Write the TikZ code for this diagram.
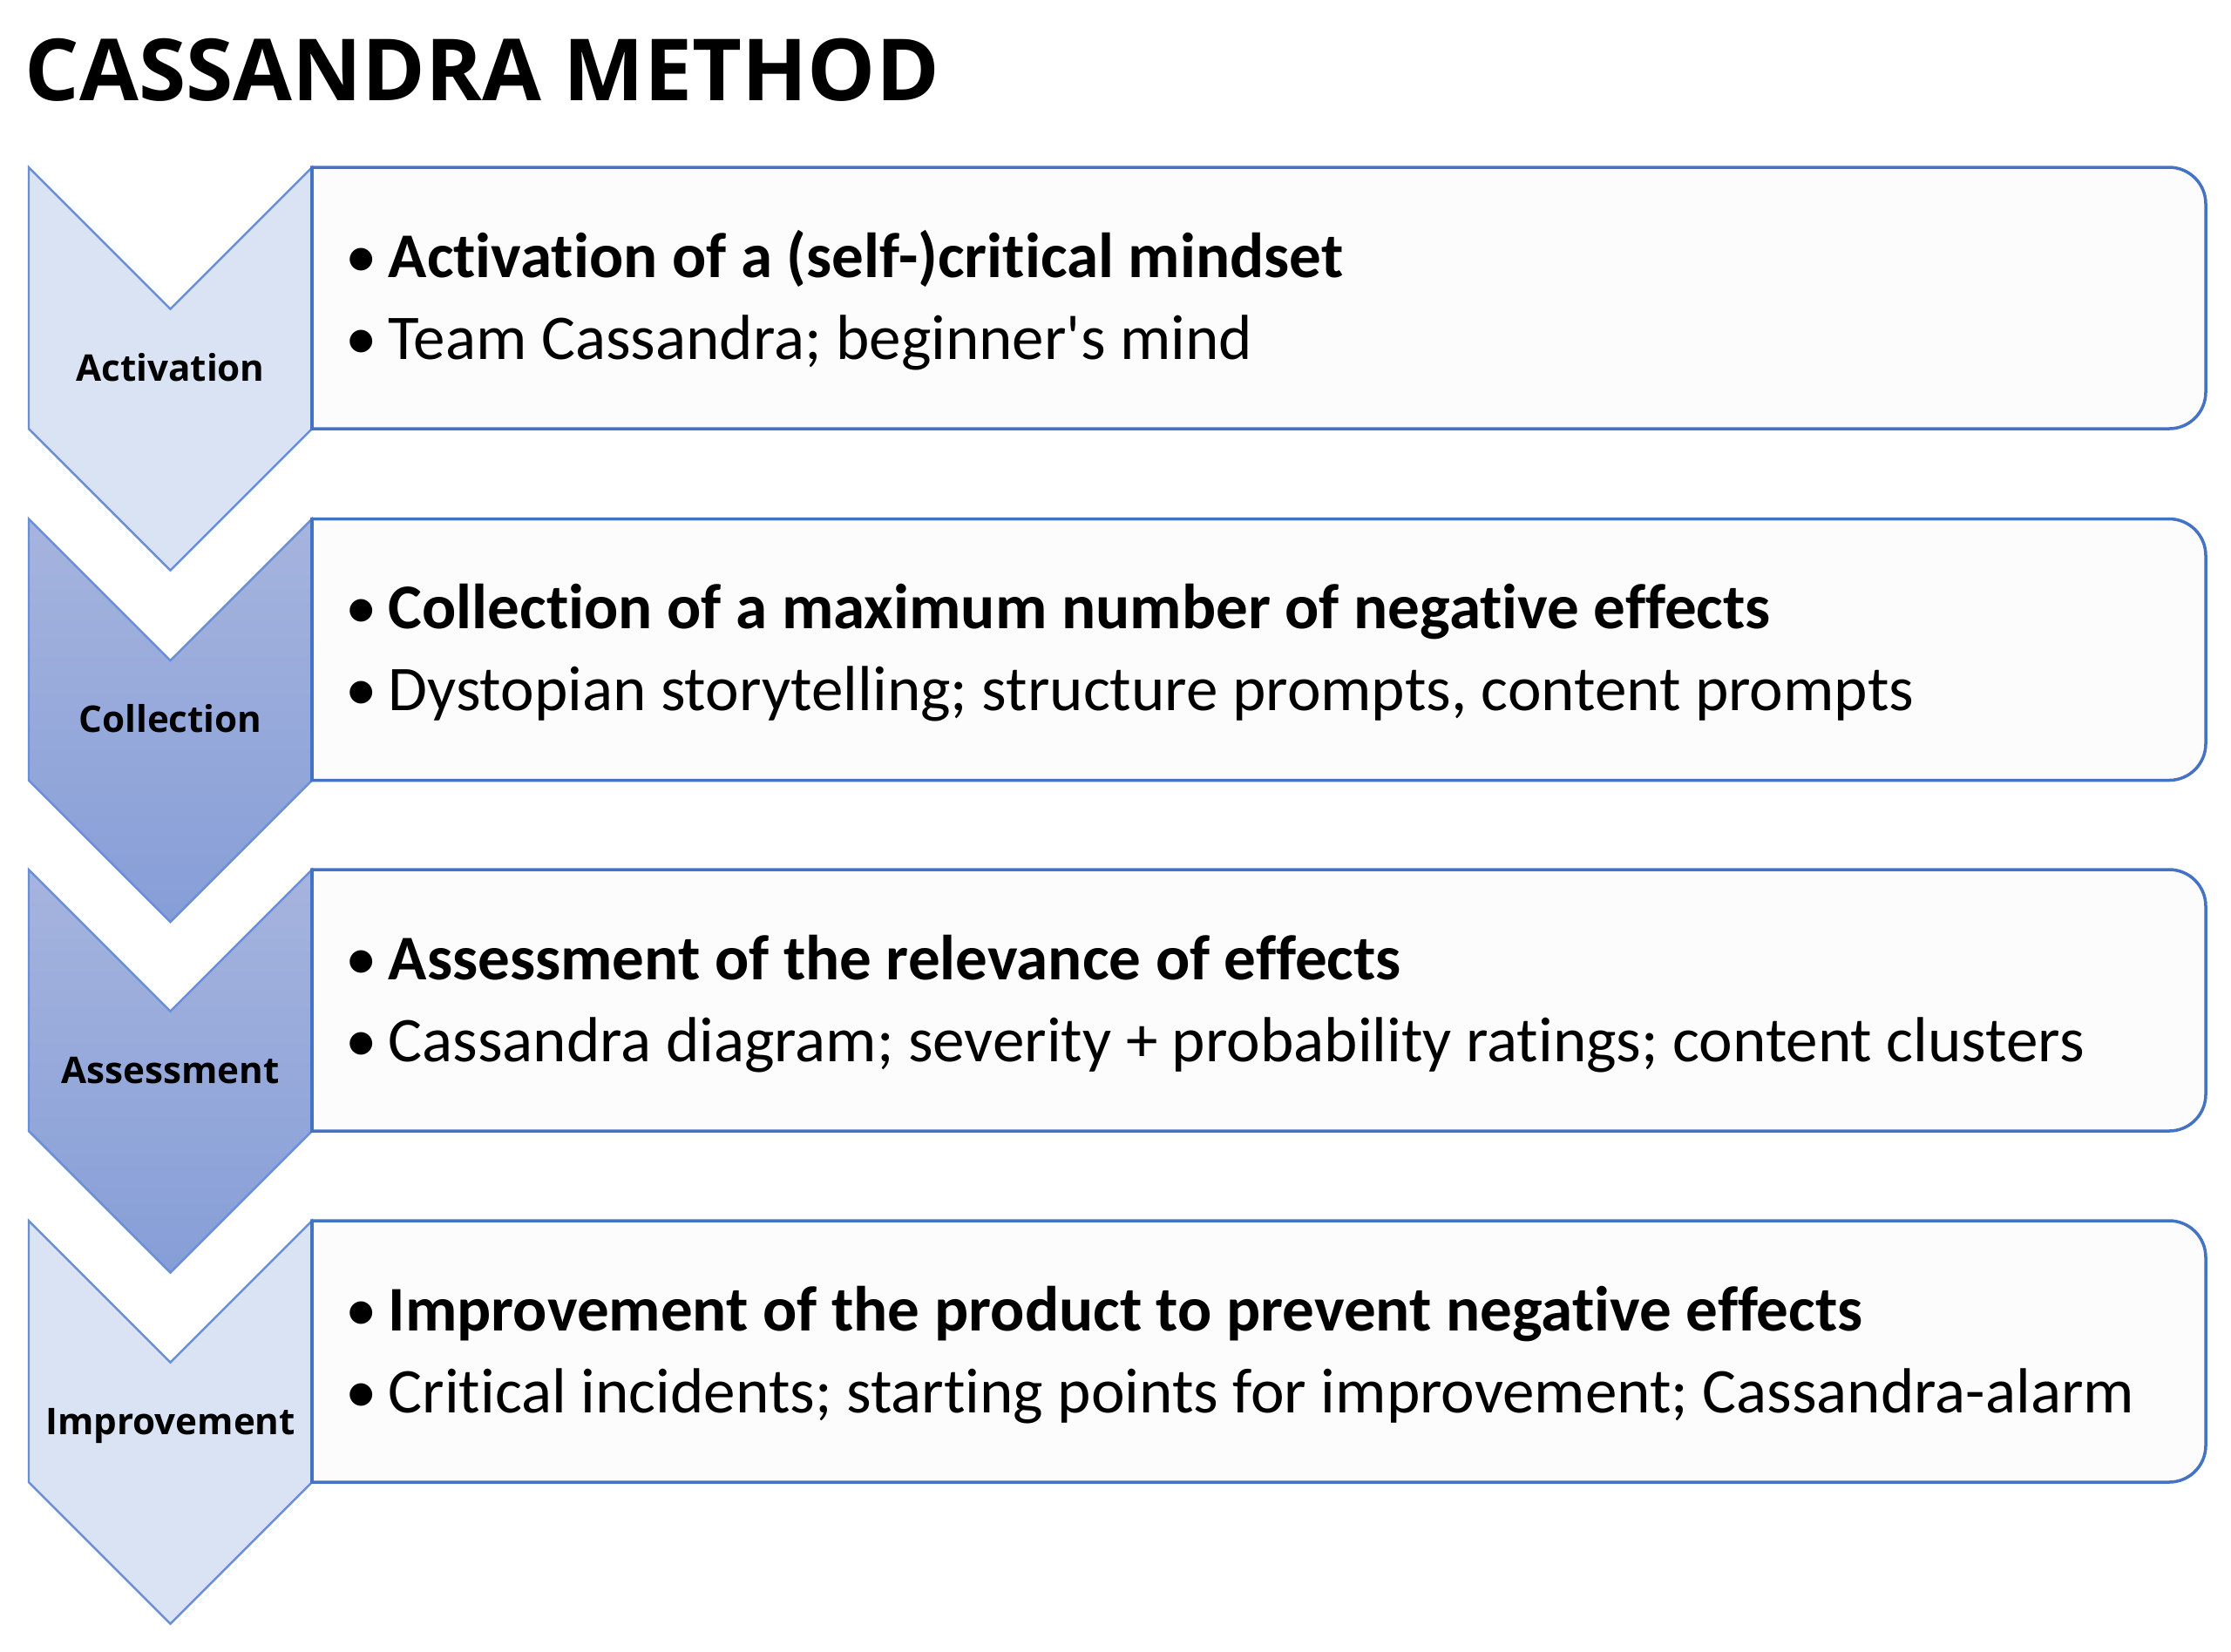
\documentclass[tikz,border=0pt]{standalone}
\usepackage{fontspec}
\setmainfont{Carlito}[Ligatures=CommonOff]
\newfontfamily\headfont{Open Sans}
\usepackage{xcolor}
\usetikzlibrary{positioning}
\definecolor{accblue}{HTML}{4472C4}
\definecolor{chevedge}{HTML}{6A8FD6}
\definecolor{palefill}{HTML}{DAE3F3}
\definecolor{darktop}{HTML}{A6B4DE}
\definecolor{darkbot}{HTML}{869ED7}
\definecolor{boxfill}{HTML}{FCFCFC}
\newcommand{\bul}{\makebox[0.49cm][l]{\mdseries\textbullet}}

\begin{document}
\begin{tikzpicture}[
    chev/.style={draw=chevedge, line width=0.7pt, line join=miter},
    palechev/.style={chev, fill=palefill},
    darkchev/.style={chev, top color=darktop, bottom color=darkbot},
    infobox/.style={draw=accblue, line width=1pt, fill=boxfill},
    stagename/.style={font=\headfont\bfseries\fontsize{12}{14}\selectfont, anchor=base, inner sep=0},
    headline/.style={font=\bfseries\fontsize{20.8}{25}\selectfont, anchor=base west, inner sep=0},
    subline/.style={font=\fontsize{20.8}{25}\selectfont, anchor=base west, inner sep=0}]
  \useasboundingbox (0,0) rectangle (25.6,-18.95);

  \node[font=\headfont\bfseries\fontsize{28}{32}\selectfont, anchor=base west, inner sep=0] (title) at (0.28,-1.15) {CASSANDRA METHOD};

  % activation
  \begin{scope}[yshift=-1.92cm]
  \draw[palechev] (0.33,0)--(1.955,-1.625)--(3.58,0)--(3.58,-3.0)--(1.955,-4.625)--(0.33,-3.0)--cycle;
  \draw[infobox] (3.58,0)--(12,0) [rounded corners=0.42cm]--(25.31,0)--(25.31,-3.0)--(12,-3.0) [sharp corners]--(3.58,-3.0)--cycle;
  \node[stagename] (act) at (1.955,-2.45) {Activation};
  \node[headline] (act1) at (3.96,-1.26) {\bul Activation of a (self-)critical mindset};
  \node[subline] (act2) at (3.96,-2.20) {\bul Team Cassandra; beginner\textquotesingle s mind};
  \end{scope}

  % collection
  \begin{scope}[yshift=-5.955cm]
  \draw[darkchev] (0.33,0)--(1.955,-1.625)--(3.58,0)--(3.58,-3.0)--(1.955,-4.625)--(0.33,-3.0)--cycle;
  \draw[infobox] (3.58,0)--(12,0) [rounded corners=0.42cm]--(25.31,0)--(25.31,-3.0)--(12,-3.0) [sharp corners]--(3.58,-3.0)--cycle;
  \node[stagename] (coll) at (1.955,-2.45) {Collection};
  \node[headline] (coll1) at (3.96,-1.26) {\bul Collection of a maximum number of negative effects};
  \node[subline] (coll2) at (3.96,-2.20) {\bul Dystopian storytelling; structure prompts, content prompts};
  \end{scope}

  % assessment
  \begin{scope}[yshift=-9.98cm]
  \draw[darkchev] (0.33,0)--(1.955,-1.625)--(3.58,0)--(3.58,-3.0)--(1.955,-4.625)--(0.33,-3.0)--cycle;
  \draw[infobox] (3.58,0)--(12,0) [rounded corners=0.42cm]--(25.31,0)--(25.31,-3.0)--(12,-3.0) [sharp corners]--(3.58,-3.0)--cycle;
  \node[stagename] (assess) at (1.955,-2.45) {Assessment};
  \node[headline] (assess1) at (3.96,-1.26) {\bul Assessment of the relevance of effects};
  \node[subline] (assess2) at (3.96,-2.20) {\bul Cassandra diagram; severity + probability ratings; content clusters};
  \end{scope}

  % improvement
  \begin{scope}[yshift=-14.01cm]
  \draw[palechev] (0.33,0)--(1.955,-1.625)--(3.58,0)--(3.58,-3.0)--(1.955,-4.625)--(0.33,-3.0)--cycle;
  \draw[infobox] (3.58,0)--(12,0) [rounded corners=0.42cm]--(25.31,0)--(25.31,-3.0)--(12,-3.0) [sharp corners]--(3.58,-3.0)--cycle;
  \node[stagename] (impr) at (1.955,-2.45) {Improvement};
  \node[headline] (impr1) at (3.96,-1.26) {\bul Improvement of the product to prevent negative effects};
  \node[subline] (impr2) at (3.96,-2.20) {\bul Critical incidents; starting points for improvement; Cassandra-alarm};
  \end{scope}

\end{tikzpicture}
\end{document}
